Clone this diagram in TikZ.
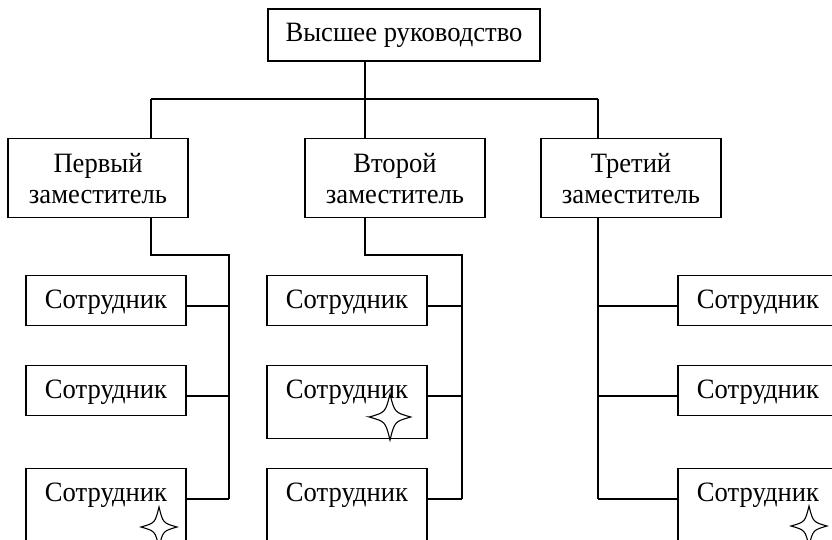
\documentclass[tikz,border=0pt]{standalone}
\usepackage{fontspec}
\setmainfont{Liberation Serif}[FakeStretch=0.95]
\usetikzlibrary{calc,positioning}

\tikzset{
  box/.style={draw,font=\fontsize{28}{31}\selectfont},
  boss/.style={box,minimum width=272pt,minimum height=52pt},
  deputy/.style={box,align=center,minimum width=180pt,minimum height=79pt,anchor=north},
  worker/.style={box,minimum width=160pt,inner ysep=12.5pt,text height=20pt,text depth=5pt,anchor=north},
  spark/.pic={\draw[line width=1.1pt] (-18,0) .. controls (-4,-4) .. (0,-20) .. controls (4,-4) .. (18,0)
    .. controls (4,4) .. (0,20) .. controls (-4,4) .. cycle;}
}

\begin{document}
\begin{tikzpicture}[x=1pt,y=-1pt,line width=1.3pt]
      \useasboundingbox (0,0) rectangle (832,539);
      \clip (0,0) rectangle (832,539);

      \node[boss] (top) at (404,35) {Высшее руководство};

      \node[deputy] (d1) at (98,138) {Первый\\заместитель};
      \node[deputy] (d2) at (395,138) {Второй\\заместитель};
      \node[deputy] (d3) at (631,138) {Третий\\заместитель};

      % branch points
      \coordinate (b1) at (151,99);
      \coordinate (b2) at (365,99);
      \coordinate (b3) at (598,99);
      \coordinate (j1) at (229,255);
      \coordinate (j2) at (462,255);

      \node[worker] (w11) at (106,275) {Сотрудник};
      \node[worker] (w12) at (106,365) {Сотрудник};
      \node[worker,text depth=60pt] (w13) at (106,468) {Сотрудник};

      \node[worker] (w21) at (347,275) {Сотрудник};
      \node[worker,text depth=28pt] (w22) at (347,365) {Сотрудник};
      \node[worker,text depth=60pt] (w23) at (347,468) {Сотрудник};

      \node[worker] (w31) at (758,275) {Сотрудник};
      \node[worker] (w32) at (758,365) {Сотрудник};
      \node[worker,text depth=60pt] (w33) at (758,468) {Сотрудник};

      \pic at (159,527) {spark};
      \pic[scale=1.15] at (390,417) {spark};
      \pic at (809,526) {spark};

      \draw (b1) -- (b3)
      (top.south -| b2) -- (d2.north -| b2)
      (b1) -- (d1.north -| b1)
      (b3) -- (d3.north -| b3);

      \draw (d1.south -| b1) |- (j1) -- (j1 |- w13.mid east);
      \draw (d2.south -| b2) |- (j2) -- (j2 |- w23.mid east);
      \draw (d3.south -| b3) -- (b3 |- w33.mid west);

      \draw (w11.mid east) edge (w11.mid east -| j1)
      (w12.mid east) edge (w12.mid east -| j1)
      (w13.mid east) edge (w13.mid east -| j1)
      (w21.mid east) edge (w21.mid east -| j2)
      (w22.mid east) edge (w22.mid east -| j2)
      (w23.mid east) edge (w23.mid east -| j2)
      (w31.mid west) edge (w31.mid west -| b3)
      (w32.mid west) edge (w32.mid west -| b3)
      (w33.mid west) edge (w33.mid west -| b3);
    \end{tikzpicture}
\end{document}
